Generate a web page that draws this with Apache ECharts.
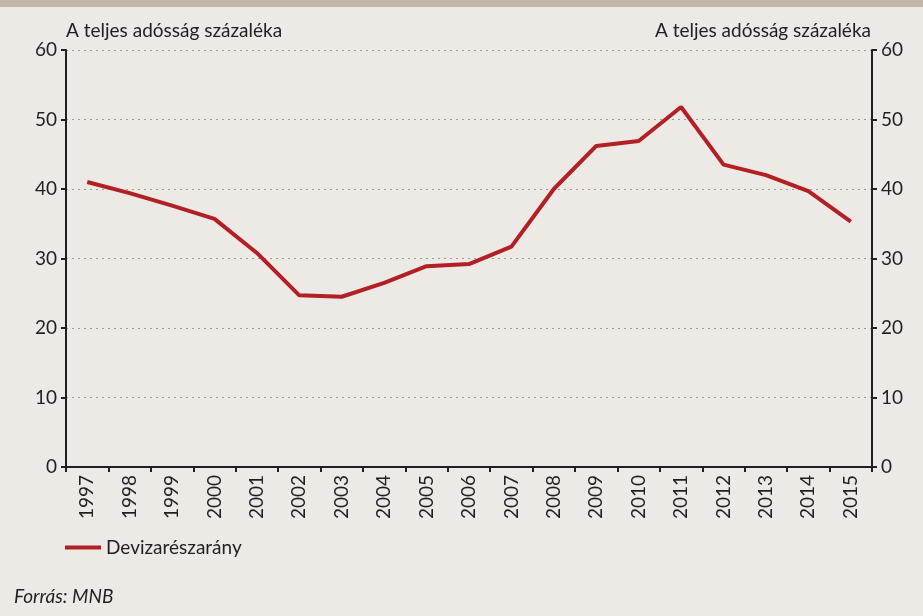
<!DOCTYPE html>
<html>
<head>
<meta charset="utf-8">
<script src="https://cdn.jsdelivr.net/npm/echarts@6/dist/echarts.min.js"></script>
<style>
  html, body { margin: 0; padding: 0; background: #ede9e5; }
  #chart { width: 923px; height: 616px; }
</style>
</head>
<body>
<div id="chart"></div>
<script>
// évek (kategóriák)
const years = ['1997', '1998', '1999', '2000', '2001', '2002', '2003', '2004', '2005', '2006',
  '2007', '2008', '2009', '2010', '2011', '2012', '2013', '2014', '2015']
// devizarészarány, a teljes adósság százaléka
const fxShare = [41.0, 39.4, 37.6, 35.7, 30.8, 24.7, 24.5, 26.5, 28.9, 29.2,
  31.7, 40.0, 46.2, 46.9, 51.8, 43.5, 42.0, 39.7, 35.3]
const seriesName = 'Devizarészarány'
const axisCaption = 'A teljes adósság százaléka'
const sourceNote = 'Forrás: MNB'

const font = 'Lato, "Open Sans", sans-serif'
const textColor = '#231f20'
const fs = 19

const chart = echarts.init(document.getElementById('chart'))

const yAxisBase = {
  type: 'value',
  min: 0,
  max: 60,
  interval: 10,
  axisLine: { show: true, lineStyle: { color: '#231f20', width: 2 } },
  axisTick: { show: true, length: 5, lineStyle: { color: '#231f20', width: 2 } },
  axisLabel: { color: textColor, fontSize: fs, fontFamily: font, margin: 9 }
}

chart.setOption({
  backgroundColor: '#ede9e5',
  animation: false,
  graphic: [
    { type: 'rect', left: 0, top: 0, shape: { width: 923, height: 7 }, style: { fill: '#c3b6a9' } }
  ],
  title: [
    { text: axisCaption, left: 66, top: 21, padding: 0, textStyle: { color: textColor, fontSize: fs, fontWeight: 'normal', fontFamily: font } },
    { text: axisCaption, right: 52, top: 21, padding: 0, textStyle: { color: textColor, fontSize: fs, fontWeight: 'normal', fontFamily: font } },
    { text: sourceNote, left: 14, top: 587, padding: 0, textStyle: { color: textColor, fontSize: fs, fontWeight: 'normal', fontStyle: 'italic', fontFamily: font } }
  ],
  legend: {
    left: 60,
    top: 533,
    data: [{ name: seriesName, icon: 'rect' }],
    itemWidth: 36,
    itemHeight: 4,
    itemGap: 10,
    textStyle: { color: textColor, fontSize: fs, fontFamily: font }
  },
  grid: { left: 66, right: 51, top: 50, bottom: 149 },
  xAxis: {
    type: 'category',
    data: years,
    boundaryGap: true,
    axisLine: { lineStyle: { color: '#231f20', width: 2 } },
    axisTick: { show: true, length: 5, lineStyle: { color: '#231f20', width: 2 } },
    axisLabel: { rotate: 90, color: textColor, fontSize: fs, fontFamily: font, margin: 8 },
    splitLine: { show: false }
  },
  yAxis: [
    Object.assign({}, yAxisBase, {
      position: 'left',
      splitLine: { show: true, lineStyle: { color: '#9a9a9a', type: [2, 4], width: 1 } }
    }),
    Object.assign({}, yAxisBase, {
      position: 'right',
      splitLine: { show: false }
    })
  ],
  series: [
    {
      name: seriesName,
      type: 'line',
      data: fxShare,
      yAxisIndex: 0,
      symbol: 'none',
      lineStyle: { color: '#b22025', width: 4 },
      itemStyle: { color: '#b22025' }
    }
  ]
})
</script>
</body>
</html>
